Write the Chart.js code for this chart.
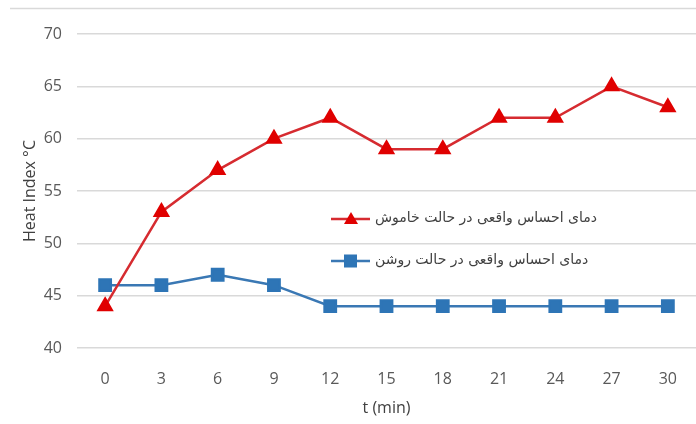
<!DOCTYPE html>
<html>
<head>
<meta charset="utf-8">
<script src="https://cdn.jsdelivr.net/npm/chart.js@4"></script>
<style>
  html, body { margin: 0; padding: 0; background: #fff; overflow: hidden; }
</style>
</head>
<body>
<canvas id="graph" width="696" height="424"></canvas>
<script>
const timeLabels = ['0', '3', '6', '9', '12', '15', '18', '21', '24', '27', '30'];
const offValues = [44, 53, 57, 60, 62, 59, 59, 62, 62, 65, 63];
const onValues = [46, 46, 47, 46, 44, 44, 44, 44, 44, 44, 44];
const offLabel = 'دمای احساس واقعی در حالت خاموش';
const onLabel = 'دمای احساس واقعی در حالت روشن';

const gray = '#595959';

// legend sits inside the plot, so draw it by hand
const insideLegend = {
    id: 'insideLegend',
    afterDraw(chart) {
        const c = chart.ctx;
        c.save();
        // thin frame line on top
        c.strokeStyle = '#d9d9d9';
        c.lineWidth = 1.5;
        c.beginPath();
        c.moveTo(10, 8.5);
        c.lineTo(696, 8.5);
        c.stroke();

        const rows = [219, 261];
        chart.data.datasets.forEach(function (ds, i) {
            const y = rows[i];
            c.strokeStyle = ds.borderColor;
            c.lineWidth = 2.5;
            c.beginPath();
            c.moveTo(331, y);
            c.lineTo(370, y);
            c.stroke();
            c.fillStyle = ds.pointBackgroundColor;
            if (ds.pointStyle === 'triangle') {
                c.beginPath();
                c.moveTo(351, y - 7);
                c.lineTo(358, y + 5);
                c.lineTo(344, y + 5);
                c.closePath();
                c.fill();
            } else {
                c.fillRect(344, y - 6.5, 13, 13);
            }
            c.fillStyle = '#404040';
            c.font = '14px "DejaVu Sans", sans-serif';
            c.textBaseline = 'middle';
            c.direction = 'rtl';
            c.textAlign = 'right';
            const w = c.measureText(ds.label).width;
            c.fillText(ds.label, 375 + w, y - 1);
        });
        c.restore();
    }
};

const ctx = document.getElementById('graph').getContext('2d');

const data = {
    labels: timeLabels,
    datasets: [
        {
            label: offLabel,
            data: offValues,
            borderColor: '#d62b30',
            backgroundColor: '#e00000',
            pointBackgroundColor: '#e00000',
            pointBorderColor: '#e00000',
            pointStyle: 'triangle',
            pointRadius: 7.5,
            pointHoverRadius: 7.5,
            borderWidth: 2.5,
            tension: 0
        },
        {
            label: onLabel,
            data: onValues,
            borderColor: '#3a78b4',
            backgroundColor: '#2e75b6',
            pointBackgroundColor: '#2e75b6',
            pointBorderColor: '#2e75b6',
            pointStyle: 'rect',
            pointRadius: 8,
            pointHoverRadius: 8,
            borderWidth: 2.5,
            tension: 0
        }
    ]
};

const config = {
    type: 'line',
    data: data,
    options: {
        responsive: false,
        animation: false,
        layout: { autoPadding: false, padding: { top: 34, right: 0, left: 0, bottom: 0 } },
        plugins: {
            legend: { display: false },
            tooltip: { enabled: false }
        },
        scales: {
            x: {
                offset: true,
                grid: { display: false, drawTicks: false },
                border: { display: false },
                ticks: { color: gray, font: { size: 16, family: '"Open Sans", sans-serif' }, padding: 22 },
                title: {
                    display: true,
                    text: 't (min)',
                    color: '#404040',
                    font: { size: 16, family: '"Open Sans", sans-serif' },
                    padding: { top: 0, bottom: 6 }
                },
                afterFit(scale) {
                    scale.height = 76;
                    scale.paddingLeft = 0;
                    scale.paddingRight = 0;
                }
            },
            y: {
                min: 40,
                max: 70,
                grid: { color: '#d9d9d9', lineWidth: 1.5, drawTicks: false },
                border: { display: false },
                ticks: { stepSize: 5, color: gray, font: { size: 16, family: '"Open Sans", sans-serif' }, padding: 15 },
                title: {
                    display: true,
                    text: 'Heat Index °C',
                    color: '#404040',
                    font: { size: 16, family: '"Open Sans", sans-serif' },
                    padding: { top: 21, bottom: 0 }
                },
                afterFit(scale) { scale.width = 77; }
            }
        }
    },
    plugins: [insideLegend]
};

let graph = new Chart(ctx, config);
</script>
</body>
</html>
